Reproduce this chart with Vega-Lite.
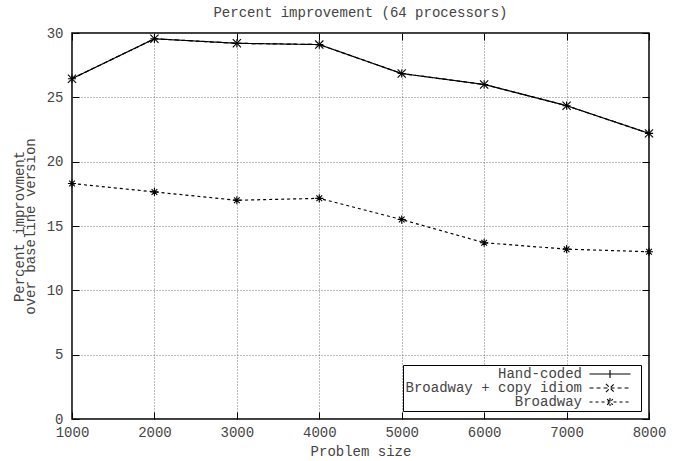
{
  "$schema": "https://vega.github.io/schema/vega-lite/v6.json",
  "autosize": {"type": "none"},
  "width": 577,
  "height": 386,
  "padding": {"left": 72, "top": 33, "right": 28, "bottom": 42},
  "background": "white",
  "title": {"text": "Percent improvement (64 processors)", "font": "Liberation Mono", "fontSize": 14, "fontWeight": "normal", "color": "#444", "offset": 6},
  "config": {
    "font": "Liberation Mono",
    "view": {"stroke": "black", "strokeWidth": 1.5},
    "axis": {"labelFont": "Liberation Mono", "titleFont": "Liberation Mono", "labelFontSize": 14, "titleFontSize": 14, "titleFontWeight": "normal", "labelColor": "#444", "titleColor": "#444", "labelFlush": false, "grid": true, "gridColor": "#555", "gridDash": [1, 2], "gridWidth": 0.8, "domain": false, "tickColor": "black", "tickSize": -7, "tickWidth": 1}
  },
  "data": {"values": [
    {"size": 1000, "value": 26.45, "series": "Hand-coded"},
    {"size": 2000, "value": 29.55, "series": "Hand-coded"},
    {"size": 3000, "value": 29.2, "series": "Hand-coded"},
    {"size": 4000, "value": 29.1, "series": "Hand-coded"},
    {"size": 5000, "value": 26.85, "series": "Hand-coded"},
    {"size": 6000, "value": 26.0, "series": "Hand-coded"},
    {"size": 7000, "value": 24.35, "series": "Hand-coded"},
    {"size": 8000, "value": 22.2, "series": "Hand-coded"},
    {"size": 1000, "value": 26.45, "series": "Broadway + copy idiom"},
    {"size": 2000, "value": 29.55, "series": "Broadway + copy idiom"},
    {"size": 3000, "value": 29.2, "series": "Broadway + copy idiom"},
    {"size": 4000, "value": 29.1, "series": "Broadway + copy idiom"},
    {"size": 5000, "value": 26.85, "series": "Broadway + copy idiom"},
    {"size": 6000, "value": 26.0, "series": "Broadway + copy idiom"},
    {"size": 7000, "value": 24.35, "series": "Broadway + copy idiom"},
    {"size": 8000, "value": 22.2, "series": "Broadway + copy idiom"},
    {"size": 1000, "value": 18.3, "series": "Broadway"},
    {"size": 2000, "value": 17.65, "series": "Broadway"},
    {"size": 3000, "value": 17.0, "series": "Broadway"},
    {"size": 4000, "value": 17.15, "series": "Broadway"},
    {"size": 5000, "value": 15.5, "series": "Broadway"},
    {"size": 6000, "value": 13.7, "series": "Broadway"},
    {"size": 7000, "value": 13.2, "series": "Broadway"},
    {"size": 8000, "value": 13.0, "series": "Broadway"}
  ]},
  "layer": [
    {
      "mark": {"type": "line", "color": "black", "strokeWidth": 1.2},
      "encoding": {
        "x": {"field": "size", "type": "quantitative", "scale": {"domain": [1000, 8000], "nice": false, "zero": false},
          "axis": {"title": "Problem size", "values": [1000, 2000, 3000, 4000, 5000, 6000, 7000, 8000], "format": "d", "labelPadding": 13.5, "titlePadding": 5}},
        "y": {"field": "value", "type": "quantitative", "scale": {"domain": [0, 30], "nice": false},
          "axis": {"title": ["Percent improvment", "over baseline version"], "titleLineHeight": 10.5, "values": [0, 5, 10, 15, 20, 25, 30], "labelPadding": 16, "titlePadding": 9}},
        "strokeDash": {"field": "series", "type": "nominal",
          "scale": {"domain": ["Hand-coded", "Broadway + copy idiom", "Broadway"], "range": [[1, 0], [4, 3], [3, 3]]},
          "legend": {"title": null, "orient": "bottom-right", "offset": 8, "strokeColor": "black", "fillColor": "white", "padding": 2, "rowPadding": 0,
            "labelFont": "Liberation Mono", "labelFontSize": 14, "labelColor": "#444", "labelAlign": "right", "labelOffset": -35, "labelLimit": 400, "symbolOffset": 198,
            "symbolStrokeColor": "black", "symbolStrokeWidth": 1.1, "symbolSize": 67,
            "encode": {"symbols": {"update": {"shape": {"signal": "datum.value === 'Hand-coded' ? 'M-5,0L5,0M0,-1L0,1M6.5,0' : datum.value === 'Broadway' ? 'M-5,0L5,0M0,-1L0,1M-0.7,-0.7L0.7,0.7M-0.7,0.7L0.7,-0.7M6.5,0' : 'M-5,0L5,0M-1,-1L1,1M-1,1L1,-1M6.5,0'"}}}}}}
      }
    },
    {
      "transform": [{"filter": "datum.series === 'Hand-coded'"}],
      "mark": {"type": "point", "filled": false, "color": "black", "strokeWidth": 1.1, "size": 67, "opacity": 1, "shape": "M-1,0L1,0M0,-1L0,1"},
      "encoding": {
        "x": {"field": "size", "type": "quantitative", "axis": null},
        "y": {"field": "value", "type": "quantitative", "axis": null}
      }
    },
    {
      "transform": [{"filter": "datum.series === 'Broadway + copy idiom'"}],
      "mark": {"type": "point", "filled": false, "color": "black", "strokeWidth": 1.1, "size": 67, "opacity": 1, "shape": "M-1,-1L1,1M-1,1L1,-1"},
      "encoding": {
        "x": {"field": "size", "type": "quantitative", "axis": null},
        "y": {"field": "value", "type": "quantitative", "axis": null}
      }
    },
    {
      "transform": [{"filter": "datum.series === 'Broadway'"}],
      "mark": {"type": "point", "filled": false, "color": "black", "strokeWidth": 1.1, "size": 67, "opacity": 1, "shape": "M-1,0L1,0M0,-1L0,1M-0.7,-0.7L0.7,0.7M-0.7,0.7L0.7,-0.7"},
      "encoding": {
        "x": {"field": "size", "type": "quantitative", "axis": null},
        "y": {"field": "value", "type": "quantitative", "axis": null}
      }
    },
    {
      "mark": {"type": "point", "opacity": 0},
      "encoding": {
        "x": {"field": "size", "type": "quantitative",
          "axis": {"orient": "top", "title": null, "labels": false, "grid": false, "values": [1000, 2000, 3000, 4000, 5000, 6000, 7000, 8000]}},
        "y": {"field": "value", "type": "quantitative",
          "axis": {"orient": "right", "title": null, "labels": false, "grid": false, "values": [0, 5, 10, 15, 20, 25, 30]}}
      }
    }
  ],
  "resolve": {"axis": {"x": "independent", "y": "independent"}}
}
